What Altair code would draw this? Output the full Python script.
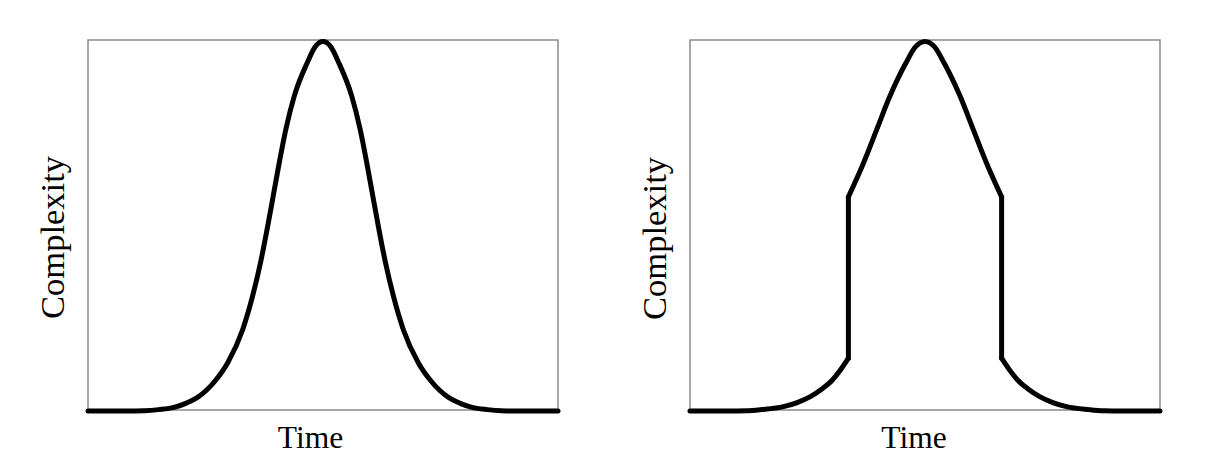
import altair as alt
import pandas as pd

# Left panel: smooth bell-shaped curve (time 0-100, complexity 0-100)
left_time = [0, 8, 12, 15, 18.3, 20.8, 23.3, 27.2, 29.7, 32.9, 35.0, 36.7, 38.1, 39.4, 40.7, 42.1, 43.9, 46.7,
             48.3, 49.2, 50.0, 50.8, 51.7,
             53.3, 56.1, 57.9, 59.3, 60.6, 61.9, 63.3, 65.0, 67.1, 70.3, 72.8, 76.7, 79.2, 81.7, 85, 88, 92, 100]
left_complexity = [-0.3, -0.3, -0.2, 0.1, 0.7, 1.8, 3.4, 8.1, 12.7, 21.7, 30.7, 39.8, 48.8, 57.8, 66.9, 75.9, 84.9, 94.0,
                   98.1, 99.3, 99.6, 99.3, 98.1,
                   94.0, 84.9, 75.9, 66.9, 57.8, 48.8, 39.8, 30.7, 21.7, 12.7, 8.1, 3.4, 1.8, 0.7, 0.1, -0.2, -0.3, -0.3]
left_segment = [0] * len(left_time)

# Right panel: bell curve with abrupt jumps on both flanks (segments: tail, jump, top, jump, tail)
right_time = [0, 8, 12, 15, 19.9, 22.8, 25.6, 28.0, 30.3, 32.0, 33.7,
              33.7, 33.7,
              33.7, 36.9, 39.7, 42.5, 45.9, 48.0, 50.0, 52.0, 54.1, 57.5, 60.3, 63.1, 66.3,
              66.3, 66.3,
              66.3, 68.0, 69.7, 72.0, 74.4, 77.2, 80.1, 85, 88, 92, 100]
right_complexity = [-0.3, -0.3, -0.2, 0.1, 0.9, 2.0, 3.6, 5.6, 8.1, 10.8, 14.0,
                    14.0, 57.6,
                    57.6, 66.7, 75.7, 84.7, 93.7, 98.2, 99.6, 98.2, 93.7, 84.7, 75.7, 66.7, 57.6,
                    57.6, 14.0,
                    14.0, 10.8, 8.1, 5.6, 3.6, 2.0, 0.9, 0.1, -0.2, -0.3, -0.3]
right_segment = [0] * 11 + [1] * 2 + [2] * 13 + [3] * 2 + [4] * 11

SERIF = "Liberation Serif"


def panel(t, c, seg, title_x, title_y):
    df = pd.DataFrame({"Time": t, "Complexity": c, "seg": seg, "i": list(range(len(t)))})
    return (
        alt.Chart(df)
        .mark_line(color="black", strokeWidth=5, interpolate="monotone",
                   strokeCap="round", strokeJoin="round")
        .encode(
            x=alt.X("Time:Q",
                    scale=alt.Scale(domain=[0, 100], nice=False, zero=False),
                    axis=alt.Axis(title="Time", domain=False, ticks=False, labels=False, grid=False,
                                  titleFont=SERIF, titleFontSize=31.5, titleFontWeight="normal",
                                  titleColor="black", titlePadding=12, titleX=title_x)),
            y=alt.Y("Complexity:Q",
                    scale=alt.Scale(domain=[0, 100], nice=False, zero=False),
                    axis=alt.Axis(title="Complexity", domain=False, ticks=False, labels=False, grid=False,
                                  titleFont=SERIF, titleFontSize=34.5, titleFontWeight="normal",
                                  titleColor="black", titlePadding=18, titleY=title_y)),
            detail="seg:N",
            order="i:Q",
        )
        .properties(width=470, height=370)
    )


left = panel(left_time, left_complexity, left_segment, 222, 197)
right = panel(right_time, right_complexity, right_segment, 223.5, 198)

chart = (
    alt.hconcat(left, right, spacing=132, bounds="flush")
    .properties(padding={"left": 26, "top": 30, "right": 5, "bottom": 0}, background="white")
    .configure_view(stroke="#8a8a8a", strokeWidth=1.5)
)

chart.save("out.html", embed_options={"renderer": "svg", "actions": False})
